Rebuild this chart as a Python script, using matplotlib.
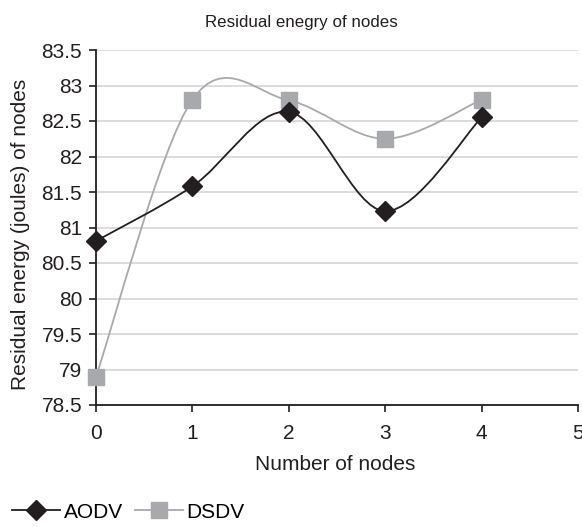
import matplotlib
matplotlib.use("Agg")
import matplotlib.pyplot as plt
import numpy as np
from matplotlib.path import Path
from matplotlib.patches import PathPatch
from matplotlib.lines import Line2D

plt.rcParams['font.family'] = ['Liberation Sans', 'DejaVu Sans']

x_nodes = [0, 1, 2, 3, 4]
aodv = [80.81, 81.58, 82.63, 81.23, 82.55]
dsdv = [78.90, 82.80, 82.79, 82.25, 82.80]
series_names = ['AODV', 'DSDV']
title = 'Residual enegry of nodes'
xlabel = 'Number of nodes'
ylabel = 'Residual energy (joules) of nodes'
xticks = [0, 1, 2, 3, 4, 5]
yticks = [78.5, 79, 79.5, 80, 80.5, 81, 81.5, 82, 82.5, 83, 83.5]


def smooth_path(xs, ys):
    pts = np.column_stack([xs, ys]).astype(float)
    n = len(pts)
    verts = [pts[0]]
    codes = [Path.MOVETO]
    for i in range(n - 1):
        p0 = pts[i - 1] if i > 0 else pts[i]
        p1 = pts[i]
        p2 = pts[i + 1]
        p3 = pts[i + 2] if i + 2 < n else pts[i + 1]
        c1 = p1 + (p2 - p0) / 6.0
        c2 = p2 - (p3 - p1) / 6.0
        verts += [c1, c2, p2]
        codes += [Path.CURVE4] * 3
    return Path(verts, codes)


W, H = 582, 527
fig = plt.figure(figsize=(W / 100, H / 100), dpi=100)
ax = fig.add_axes([96 / W, 1 - 405 / H, (578 - 96) / W, (405 - 50) / H])

colors = {'AODV': '#231f20', 'DSDV': '#a7a9ac'}
ax.add_patch(PathPatch(smooth_path(x_nodes, dsdv), fill=False, edgecolor=colors['DSDV'], lw=1.3, zorder=3, clip_on=False))
ax.add_patch(PathPatch(smooth_path(x_nodes, aodv), fill=False, edgecolor=colors['AODV'], lw=1.3, zorder=4, clip_on=False))
ax.plot(x_nodes, dsdv, linestyle='none', marker='s', ms=11.5, color=colors['DSDV'], zorder=5, clip_on=False)
ax.plot(x_nodes, aodv, linestyle='none', marker='D', ms=10.5, color=colors['AODV'], zorder=6, clip_on=False)

ax.set_xlim(0, 5)
ax.set_ylim(78.5, 83.5)
ax.set_xticks(xticks)
ax.set_yticks(yticks)
ax.set_yticklabels([f'{v:g}' for v in yticks])
ax.tick_params(axis='both', labelsize=15, direction='out', length=5, width=1.2, colors='#231f20')
ax.tick_params(axis='x', pad=9)
ax.tick_params(axis='y', pad=5)
ax.grid(axis='y', color='#d9d9d9', lw=1.3)
ax.set_axisbelow(True)
for s in ['top', 'right']:
    ax.spines[s].set_visible(False)
for s in ['left', 'bottom']:
    ax.spines[s].set_color('#231f20')
    ax.spines[s].set_linewidth(1.3)

fig.text(301.5 / W, 1 - 22 / H, title, fontsize=12.2, color='#231f20', ha='center', va='center')
ax.set_xlabel(xlabel, fontsize=15, color='#231f20')
ax.set_ylabel(ylabel, fontsize=15, color='#231f20')
ax.xaxis.set_label_coords(0.497, -0.141)
ax.yaxis.set_label_coords(-0.137, 0.48)

handles = [
    Line2D([], [], color=colors['AODV'], marker='D', ms=10.5, lw=1.3),
    Line2D([], [], color=colors['DSDV'], marker='s', ms=11.5, lw=1.3),
]
fig.legend(handles, series_names, loc='center left', bbox_to_anchor=(12 / W, 1 - 512 / H), ncol=2,
           frameon=False, fontsize=15, handlelength=2.3, columnspacing=0.55, handletextpad=0.2,
           borderaxespad=0.0, borderpad=0.0)

fig.savefig('out.png', dpi=100)
